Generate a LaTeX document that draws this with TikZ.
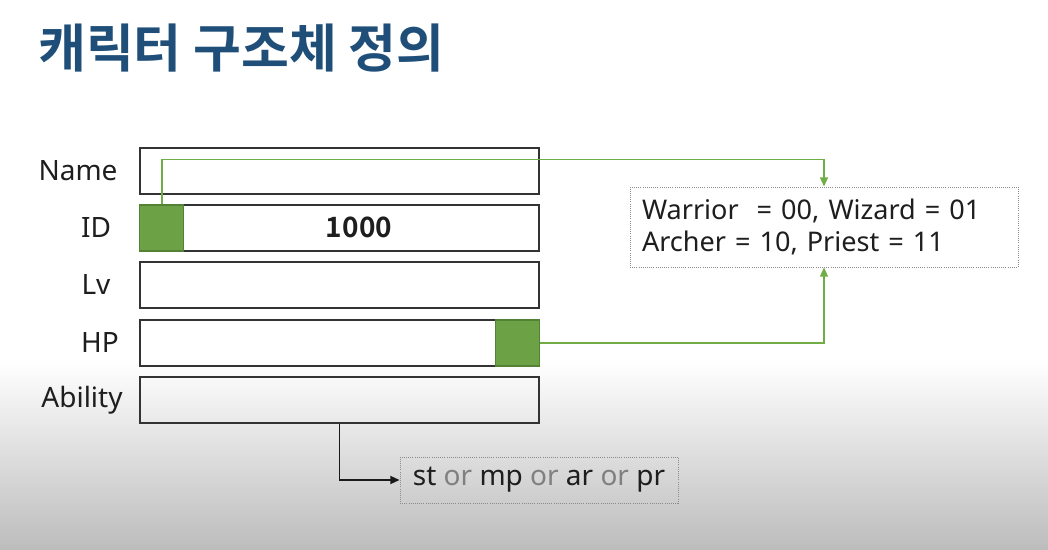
\documentclass[tikz,border=0pt]{standalone}
\usepackage{fontspec}
\setmainfont{Noto Sans}
\newfontfamily\krfont{Noto Sans CJK KR}[BoldFont={* Bold}]
\usetikzlibrary{arrows.meta,positioning,calc}
\definecolor{titleblue}{RGB}{31,78,121}
\definecolor{tagfill}{RGB}{108,162,69}
\definecolor{tagline}{RGB}{84,130,53}
\definecolor{linkgreen}{RGB}{112,173,71}
\definecolor{labelink}{RGB}{30,30,30}

\begin{document}
\begin{tikzpicture}[
  x=0.75pt, y=-0.75pt,
  field/.style={draw=black!80, line width=1.4pt, minimum width=299pt,
                minimum height=34.5pt, inner sep=0pt},
  tagbox/.style={fill=tagfill, draw=tagline, line width=0.8pt,
                 minimum width=33pt, minimum height=34.5pt, inner sep=0pt},
  note/.style={draw=black!45, densely dotted, line width=0.6pt,
               inner sep=0pt},
  link/.style={-{Triangle[length=7pt,width=6pt]}, linkgreen, line width=1.2pt},
  plain/.style={-{Triangle[length=7pt,width=6pt]}, black!90, line width=1.3pt},
  every node/.style={font=\fontsize{21}{24}\selectfont, text=labelink}]

% ---- page and lower shading ------------------------------------------
\fill[white] (0,0) rectangle (1048,549);
\shade[top color=white, bottom color=black!26] (0,360) rectangle (1048,549);
\useasboundingbox (0,0) rectangle (1048,549);

% ---- title -------------------------------------------------------------
\node[anchor=west, inner sep=0pt, text=titleblue,
      font=\krfont\bfseries\fontsize{39}{44}\selectfont]
  (title) at (38,48) {캐릭터 구조체 정의};

% ---- the five fields and their labels ----------------------------------
\foreach \nm/\lb/\yy/\lx in {name/Name/171/78, id/ID/228/96, lv/Lv/285/96,
                              hp/HP/343/100, ab/Ability/400/82}{
  \node[field] (f\nm) at (339.5,\yy) {};
  \node (l\nm) at (\lx,\yy) {\lb};
}
\node[font=\krfont\bfseries\fontsize{21}{24}\selectfont] (idval)
  at (359,227) {1000};

% ---- the two marked bits -----------------------------------------------
\node[tagbox, anchor=west] (idtag) at (fid.west) {};
\node[tagbox, anchor=east] (hptag) at (fhp.east) {};

% ---- the two value boxes -----------------------------------------------
\node[note, minimum width=291pt, minimum height=60pt, align=left,
      text width=273pt, font=\fontsize{20.3}{24}\selectfont] (cls)
  at (824,227)
  {Warrior\ \ = 00, Wizard = 01\\Archer = 10, Priest = 11};
\node[note, minimum width=208.5pt, minimum height=34.5pt] (abil)
  at (539,480)
  {st \textcolor{black!50}{or} mp \textcolor{black!50}{or} ar
   \textcolor{black!50}{or} pr};

% ---- connectors --------------------------------------------------------
\draw[link] (idtag.north) -- ++(0,-45) -| (cls.north);
\draw[link] (hptag.east) -| (cls.south);
\draw[plain] (fab.south) |- (abil.west);
\end{tikzpicture}
\end{document}
